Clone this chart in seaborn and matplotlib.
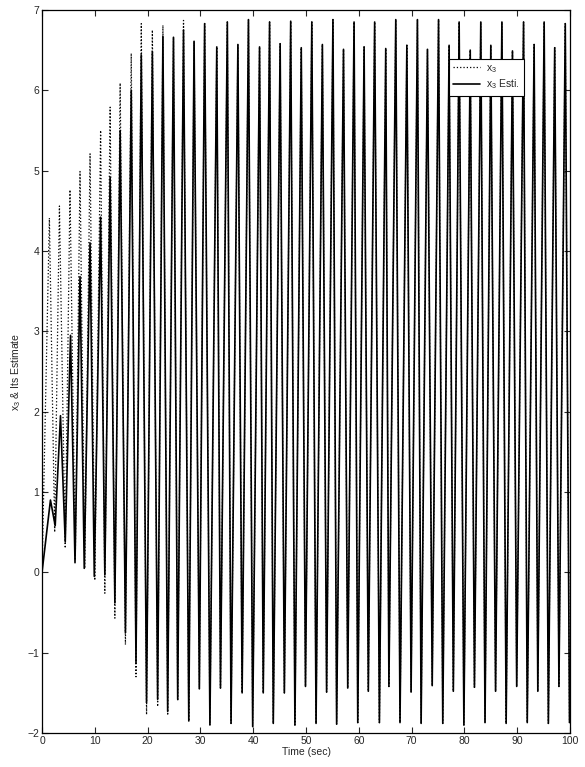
import numpy as np
import pandas as pd
import matplotlib
matplotlib.use("Agg")
import matplotlib.pyplot as plt
import seaborn as sns

# ---- data (extrema of the oscillation) ----
# early part, true state x3 (dotted)
true_peak_t = [1.4, 3.3, 5.3, 7.2, 9.1, 11.1, 12.9, 14.8, 16.9, 18.8, 20.9, 22.9, 24.9, 26.8, 28.8]
true_peak_v = [4.41, 4.56, 4.76, 4.99, 5.21, 5.50, 5.79, 6.09, 6.46, 6.83, 6.75, 6.81, 6.66, 6.87, 6.61]
true_trough_t = [2.4, 4.4, 6.3, 8.1, 10.0, 11.9, 13.8, 15.8, 17.8, 19.8, 21.9, 23.8, 25.7, 27.8, 29.8]
true_trough_v = [0.50, 0.30, 0.15, 0.05, -0.10, -0.26, -0.57, -0.90, -1.30, -1.77, -1.67, -1.78, -1.60, -1.85, -1.45]

# early part, estimate (solid)
est_peak_t = [1.6, 3.5, 5.4, 7.2, 9.1, 11.1, 12.9, 14.8, 16.9, 18.8, 20.9, 22.9, 24.9, 26.8, 28.8]
est_peak_v = [0.90, 1.95, 2.95, 3.68, 4.10, 4.42, 4.92, 5.50, 6.00, 6.44, 6.48, 6.67, 6.66, 6.75, 6.61]
est_trough_t = [2.5, 4.4, 6.25, 8.0, 9.9, 11.9, 13.8, 15.8, 17.8, 19.8, 21.9, 23.8, 25.7, 27.8, 29.8]
est_trough_v = [0.58, 0.38, 0.12, 0.05, -0.05, -0.03, -0.38, -0.75, -1.13, -1.62, -1.58, -1.73, -1.58, -1.85, -1.45]

# late part (both curves coincide)
late_peak_t = [30.8, 33.1, 35.1, 37.1, 39.1, 41.2, 43.1, 45.1, 47.1, 49.1, 51.1, 53.1, 55.1, 57.1,
               59.1, 61.0, 63.0, 65.1, 67.0, 69.1, 71.1, 73.0, 75.1, 77.1, 79.0, 81.1, 83.1, 85.0,
               87.1, 89.1, 91.2, 93.2, 95.1, 97.1, 99.1]
late_peak_v = [6.83, 6.54, 6.85, 6.57, 6.88, 6.54, 6.85, 6.58, 6.86, 6.53, 6.85, 6.57, 6.88, 6.51,
               6.85, 6.54, 6.85, 6.52, 6.88, 6.56, 6.88, 6.51, 6.88, 6.56, 6.85, 6.50, 6.85, 6.56,
               6.85, 6.49, 6.85, 6.57, 6.85, 6.53, 6.83]
late_trough_t = [31.8, 33.8, 35.8, 37.9, 39.9, 41.9, 43.8, 45.9, 47.9, 49.9, 51.9, 53.9, 55.8, 57.9,
                 59.8, 61.8, 63.9, 65.7, 67.8, 69.9, 71.8, 73.9, 75.9, 77.9, 79.9, 81.9, 83.9, 85.9,
                 87.9, 89.9, 91.9, 93.9, 95.9, 97.9, 99.9]
late_trough_v = [-1.90, -1.44, -1.88, -1.50, -1.92, -1.50, -1.88, -1.50, -1.90, -1.42, -1.88, -1.49,
                 -1.89, -1.44, -1.87, -1.48, -1.87, -1.42, -1.87, -1.49, -1.88, -1.41, -1.88, -1.48,
                 -1.90, -1.43, -1.87, -1.48, -1.88, -1.42, -1.87, -1.48, -1.88, -1.42, -1.87]

start_t = [0.0]
start_v = [0.0]

x_ticks = list(range(0, 101, 10))
y_ticks = list(range(-2, 8))


def build(pt, pv, tt, tv):
    t = start_t + pt + tt + late_peak_t + late_trough_t
    v = start_v + pv + tv + late_peak_v + late_trough_v
    df = pd.DataFrame({"t": t, "v": v}).sort_values("t")
    return df


df_true = build(true_peak_t, true_peak_v, true_trough_t, true_trough_v)
df_est = build(est_peak_t, est_peak_v, est_trough_t, est_trough_v)

sns.set_style("ticks")
plt.rcParams["font.family"] = ["Liberation Sans", "DejaVu Sans"]

fig = plt.figure(figsize=(5.85, 7.67), dpi=100)
ax = fig.add_axes([0.0718, 0.0443, 0.9026, 0.9427])

sns.lineplot(data=df_true, x="t", y="v", ax=ax, color="black", linestyle=":",
             linewidth=0.9, estimator=None, sort=False, label="$\\mathregular{x_3}$")
sns.lineplot(data=df_est, x="t", y="v", ax=ax, color="black", linestyle="-",
             linewidth=1.2, estimator=None, sort=False, label="$\\mathregular{x_3}$ Esti.")

ax.set_xlim(0, 100)
ax.set_ylim(-2, 7)
ax.set_xticks(x_ticks)
ax.set_yticks(y_ticks)
ax.tick_params(direction="in", top=True, right=True, labelsize=7.5, length=4, width=0.8, pad=2)
for s in ax.spines.values():
    s.set_linewidth(0.9)
    s.set_color("black")

ax.set_xlabel("Time (sec)", fontsize=7.5, labelpad=1)
ax.set_ylabel("$\\mathregular{x_3}$ & Its Estimate", fontsize=7.5, labelpad=3)

leg = ax.legend(loc="upper left", bbox_to_anchor=(0.76, 0.94), fontsize=7.5,
                frameon=True, fancybox=False, edgecolor="black", framealpha=1,
                handlelength=2.6, borderpad=0.4, labelspacing=0.3, handletextpad=0.6)
leg.get_frame().set_linewidth(0.8)

fig.savefig("out.png", dpi=100)
